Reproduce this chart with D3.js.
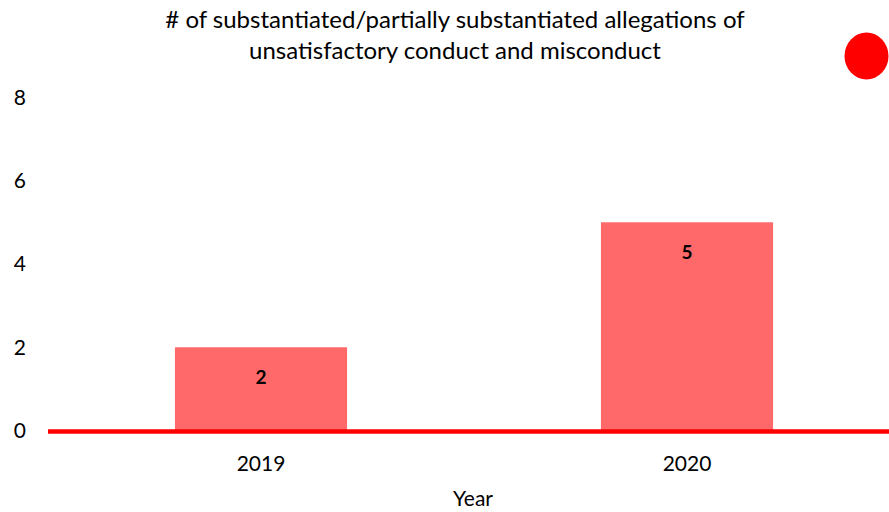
<!DOCTYPE html>
<html>
<head>
<meta charset="utf-8">
<script src="https://cdn.jsdelivr.net/npm/d3@7"></script>
<style>
  body { margin: 0; background: #fff; }
  text { font-family: Lato, "Open Sans", sans-serif; fill: #000; }
</style>
</head>
<body>
<div id="app"></div>
<script>
// data
const years = ["2019", "2020"]
const counts = [2, 5]
const yTicks = [0, 2, 4, 6, 8]
const titleLines = ["# of substantiated/partially substantiated allegations of", "unsatisfactory conduct and misconduct"]

const W = 889, H = 512

var svg = d3.select("#app").append("svg").attr("width", W).attr("height", H)

const x = d3.scaleBand().domain(years).range([48, 900]).padding(0)
const y = d3.scaleLinear().domain([0, 8]).range([430.6, 97.3])
const barW = x.bandwidth() * 0.404

// title
svg.selectAll(".title").data(titleLines).enter().append("text")
  .attr("class", "title")
  .attr("x", 455).attr("y", (d, i) => 28 + i * 31)
  .attr("text-anchor", "middle")
  .style("font-size", "24px")
  .text(d => d)

// red dot
svg.append("ellipse").attr("cx", 866.5).attr("cy", 56).attr("rx", 22).attr("ry", 23.5).style("fill", "#ff0000")

// y tick labels (no axis line)
const yAxis = d3.axisLeft(y).tickValues(yTicks).tickSize(0).tickPadding(0)
const yg = svg.append("g").attr("transform", "translate(26,0)").call(yAxis)
yg.select(".domain").remove()
yg.selectAll("text").style("font-family", "Lato, 'Open Sans', sans-serif").style("font-size", "21px").attr("fill", "#000")

// bars
svg.selectAll(".bar").data(years).enter().append("rect")
  .attr("class", "bar")
  .attr("x", d => x(d) + (x.bandwidth() - barW) / 2)
  .attr("y", (d, i) => y(counts[i]))
  .attr("width", barW)
  .attr("height", (d, i) => y(0) - y(counts[i]))
  .style("fill", "#ff6969")

// value labels
svg.selectAll(".val").data(years).enter().append("text")
  .attr("class", "val")
  .attr("x", d => x(d) + x.bandwidth() / 2)
  .attr("y", (d, i) => y(counts[i]) + 37)
  .attr("text-anchor", "middle")
  .style("font-size", "19px").style("font-weight", "bold")
  .text((d, i) => counts[i])

// baseline
svg.append("line").attr("x1", 48).attr("x2", W).attr("y1", y(0) + 0.8).attr("y2", y(0) + 0.8)
  .style("stroke", "#ff0000").style("stroke-width", 4.5)

// x labels
const xAxis = d3.axisBottom(x).tickSize(0).tickPadding(0)
const xg = svg.append("g").attr("transform", "translate(0,456)").call(xAxis)
xg.select(".domain").remove()
xg.selectAll("text").style("font-family", "Lato, 'Open Sans', sans-serif").style("font-size", "21px").attr("fill", "#000")

svg.append("text").attr("x", 473).attr("y", 506).attr("text-anchor", "middle")
  .style("font-size", "21px").text("Year")
</script>
</body>
</html>
